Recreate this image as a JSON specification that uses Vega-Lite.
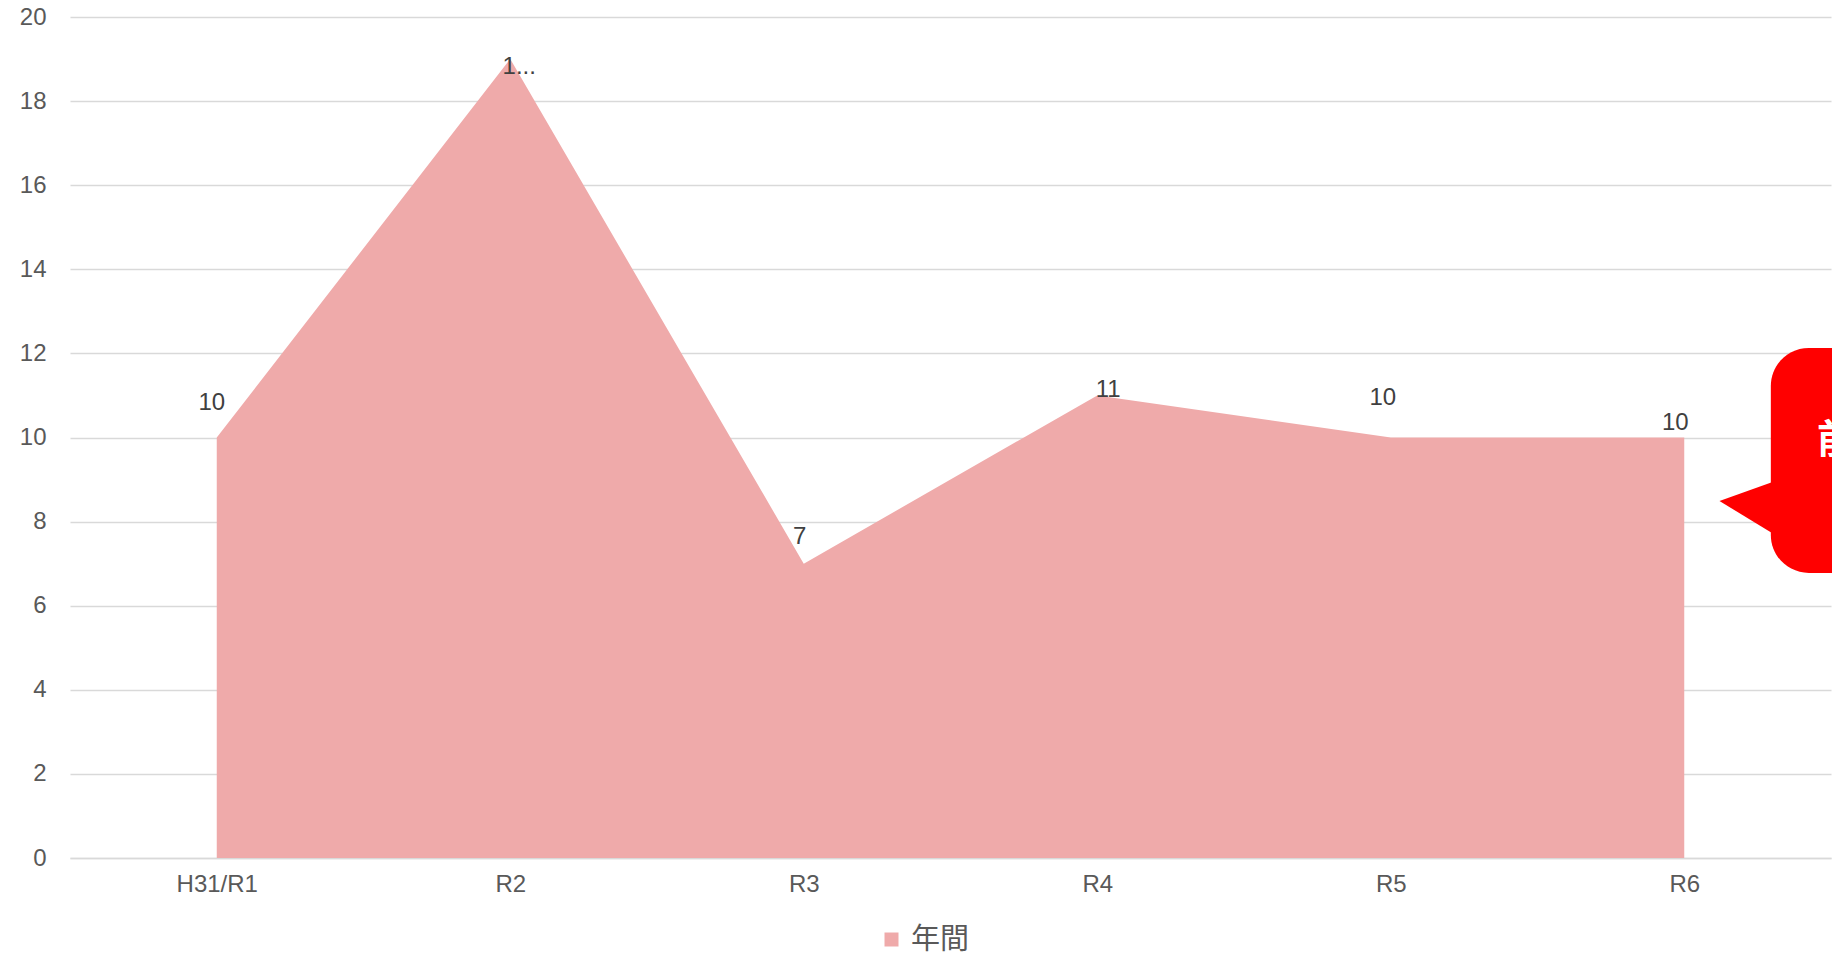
{
  "$schema": "https://vega.github.io/schema/vega-lite/v6.json",
  "width": 1761,
  "height": 841,
  "autosize": {"type": "none"},
  "padding": {"left": 70, "top": 17, "right": 1, "bottom": 97},
  "config": {"view": {"stroke": null}, "font": "Liberation Sans"},
  "datasets": {
    "main": [
      {"period": "H31/R1", "value": 10, "label": "10"},
      {"period": "R2", "value": 19, "label": "1..."},
      {"period": "R3", "value": 7, "label": "7"},
      {"period": "R4", "value": 11, "label": "11"},
      {"period": "R5", "value": 10, "label": "10"},
      {"period": "R6", "value": 10, "label": "10"}
    ],
    "callout": [{"x": 5.795, "x2": 6.6, "y": 6.78, "y2": 12.13}],
    "pointer": [
      {"x": 5.62, "lo": 8.49, "hi": 8.49},
      {"x": 5.82, "lo": 7.64, "hi": 8.99}
    ],
    "calloutText": [{"x": 5.952, "y": 9.92, "text": "前年比"}]
  },
  "layer": [
    {
      "data": {"name": "main"},
      "layer": [
        {
          "mark": {"type": "area", "opacity": 1},
          "encoding": {
            "x": {
              "field": "period", "type": "nominal",
              "scale": {"type": "point", "padding": 0.5, "domain": ["H31/R1", "R2", "R3", "R4", "R5", "R6"]},
              "axis": {"title": null, "labelAngle": 0, "labelFontSize": 24, "labelColor": "#595959", "labelPadding": 14, "ticks": false, "domainColor": "#d9d9d9", "domainWidth": 1.3, "grid": false}
            },
            "y": {
              "field": "value", "type": "quantitative",
              "scale": {"domain": [0, 20], "nice": false},
              "axis": {"title": null, "values": [0, 2, 4, 6, 8, 10, 12, 14, 16, 18, 20], "grid": true, "gridColor": "#d9d9d9", "gridWidth": 1.3, "domain": false, "ticks": false, "labelFontSize": 24, "labelColor": "#595959", "labelPadding": 24}
            },
            "color": {
              "datum": "年間",
              "scale": {"range": ["#efaaaa"]},
              "legend": {"title": null, "orient": "none", "legendX": 807, "legendY": 908, "padding": 0, "symbolType": "square", "symbolSize": 196, "symbolOpacity": 1, "symbolStrokeWidth": 0, "labelFont": "Noto Sans CJK JP", "labelFontSize": 29, "labelColor": "#595959", "labelOffset": 5}
            }
          }
        },
        {
          "transform": [{"filter": "datum.period === 'H31/R1'"}],
          "mark": {"type": "text", "fontSize": 24, "color": "#404040", "dx": -5, "dy": -35, "baseline": "middle"},
          "encoding": {"x": {"field": "period", "type": "nominal"}, "y": {"field": "value", "type": "quantitative"}, "text": {"field": "label"}}
        },
        {
          "transform": [{"filter": "datum.period === 'R2'"}],
          "mark": {"type": "text", "fontSize": 24, "color": "#404040", "dx": 9, "dy": 8, "baseline": "middle"},
          "encoding": {"x": {"field": "period", "type": "nominal"}, "y": {"field": "value", "type": "quantitative"}, "text": {"field": "label"}}
        },
        {
          "transform": [{"filter": "datum.period === 'R3'"}],
          "mark": {"type": "text", "fontSize": 24, "color": "#404040", "dx": -4, "dy": -27, "baseline": "middle"},
          "encoding": {"x": {"field": "period", "type": "nominal"}, "y": {"field": "value", "type": "quantitative"}, "text": {"field": "label"}}
        },
        {
          "transform": [{"filter": "datum.period === 'R4'"}],
          "mark": {"type": "text", "fontSize": 24, "color": "#404040", "dx": 11, "dy": -5, "baseline": "middle"},
          "encoding": {"x": {"field": "period", "type": "nominal"}, "y": {"field": "value", "type": "quantitative"}, "text": {"field": "label"}}
        },
        {
          "transform": [{"filter": "datum.period === 'R5'"}],
          "mark": {"type": "text", "fontSize": 24, "color": "#404040", "dx": -8, "dy": -40, "baseline": "middle"},
          "encoding": {"x": {"field": "period", "type": "nominal"}, "y": {"field": "value", "type": "quantitative"}, "text": {"field": "label"}}
        },
        {
          "transform": [{"filter": "datum.period === 'R6'"}],
          "mark": {"type": "text", "fontSize": 24, "color": "#404040", "dx": -9, "dy": -15, "baseline": "middle"},
          "encoding": {"x": {"field": "period", "type": "nominal"}, "y": {"field": "value", "type": "quantitative"}, "text": {"field": "label"}}
        }
      ]
    },
    {
      "layer": [
        {
          "data": {"name": "callout"},
          "mark": {"type": "rect", "color": "#ff0000", "cornerRadius": 38},
          "encoding": {
            "x": {"field": "x", "type": "quantitative", "scale": {"domain": [0, 6], "nice": false, "zero": false}, "axis": null},
            "x2": {"field": "x2"},
            "y": {"field": "y", "type": "quantitative"},
            "y2": {"field": "y2"}
          }
        },
        {
          "data": {"name": "pointer"},
          "mark": {"type": "area", "color": "#ff0000", "opacity": 1},
          "encoding": {
            "x": {"field": "x", "type": "quantitative", "axis": null},
            "y": {"field": "lo", "type": "quantitative"},
            "y2": {"field": "hi"}
          }
        },
        {
          "data": {"name": "calloutText"},
          "mark": {"type": "text", "color": "#ffffff", "font": "Noto Sans CJK JP", "fontWeight": "bold", "fontSize": 40, "align": "left", "baseline": "middle"},
          "encoding": {
            "x": {"field": "x", "type": "quantitative", "axis": null},
            "y": {"field": "y", "type": "quantitative"},
            "text": {"field": "text"}
          }
        }
      ]
    }
  ],
  "resolve": {"scale": {"x": "independent"}}
}
